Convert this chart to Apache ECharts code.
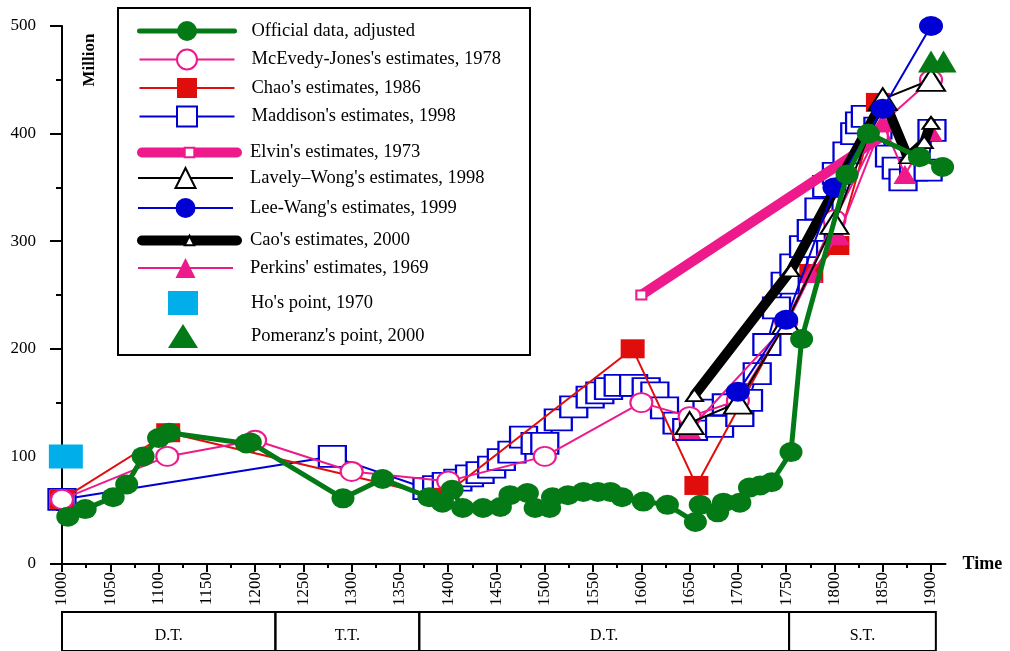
<!DOCTYPE html>
<html>
<head>
<meta charset="utf-8">
<title>China population estimates</title>
<script src="https://cdn.jsdelivr.net/npm/echarts@6/dist/echarts.min.js"></script>
<style>
  html, body { margin: 0; padding: 0; background: #fff; }
  #chart { width: 1010px; height: 651px; }
</style>
</head>
<body>
<div id="chart"></div>
<script>
// [year, million]
const official = [[1006,44],[1024,51],[1053,62],[1067,74],[1084,100],[1100,117],[1111,122],[1191,112],[1195,113],
  [1291,61],[1332,79],[1380,62],[1394,57],[1404,69],[1415,52],[1436,52],[1454,53],[1464,64],[1482,66],[1490,52],
  [1505,52],[1508,62],[1524,64],[1540,67],[1555,67],[1568,67],[1580,62],[1602,58],[1627,55],[1656,39],[1661,55],
  [1679,48],[1685,57],[1702,57],[1712,71],[1723,73],[1735,76],[1755,104],[1766,209],[1813,362],[1835,400],
  [1888,378],[1912,369]];
const mcEvedy = [[1000,60],[1109,100],[1200,115],[1300,86],[1400,77],[1500,100],[1600,150],[1650,137],[1700,152],
  [1750,225],[1800,320],[1850,410],[1900,450]];
const chao = [[1000,60],[1110,122],[1393,62],[1591,200],[1657,73],[1776,270],[1803,296],[1845,429]];
const maddison = [[1000,60],[1280,100],[1378,70],[1388,72],[1398,75],[1410,78],[1422,82],[1433,85],[1445,90],
  [1455,97],[1466,104],[1478,118],[1490,112],[1500,112],[1514,134],[1530,146],[1547,155],[1557,159],[1566,163],
  [1576,166],[1592,166],[1605,163],[1614,159],[1624,145],[1637,131],[1647,125],[1654,125],[1668,143],[1681,128],
  [1688,148],[1702,138],[1711,152],[1720,177],[1730,204],[1740,238],[1749,261],[1758,278],[1768,295],[1776,310],
  [1784,330],[1792,351],[1802,363],[1813,382],[1821,400],[1826,410],[1832,416],[1845,405],[1857,379],[1864,368],
  [1871,357],[1882,366],[1897,366],[1901,403]];
const elvin = [[1600,250],[1850,398]];
const lavelyWong = [[1650,131],[1700,150],[1750,224],[1800,317],[1850,432],[1900,450]];
const leeWang = [[1700,160],[1750,227],[1800,350],[1850,423],[1900,500]];
const cao = [[1655,157],[1755,273],[1851,432],[1876,378],[1893,392],[1900,410]];
const perkins = [[1650,125],[1750,222],[1776,270],[1804,305],[1850,410],[1873,362],[1900,402]];
const ho = [[1004,100]];
const pomeranz = [[1900,467],[1913,467]];

const xTicks = [1000,1050,1100,1150,1200,1250,1300,1350,1400,1450,1500,1550,1600,1650,1700,1750,1800,1850,1900];
const xMinorTicks = [1025,1075,1125,1175,1225,1275,1325,1375,1425,1475,1525,1575,1625,1675,1725,1775,1825,1875];
const periodRanges = [[1000,1221],[1221,1370],[1370,1753],[1753,1905]];
const periodLabels = ['D.T.','T.T.','D.T.','S.T.'];

const FONT = '"Liberation Serif", "Times New Roman", serif';
const GREEN = '#047a16', PINK = '#ee1a8c', RED = '#e00d0d', BLUE = '#0000d4', CYAN = '#00aeea';

const chart = echarts.init(document.getElementById('chart'));

const legendBase = {
  orient: 'vertical',
  left: 137,
  padding: 0,
  itemWidth: 95,
  itemHeight: 25,
  selectedMode: false,
  textStyle: { fontFamily: FONT, fontSize: 18.5, color: '#000', padding: [0, 0, 0, 12] }
};
const thinText = { ...legendBase.textStyle, padding: [0, 0, 0, 8] };

const tickStyle = { color: '#000', width: 2 };

const option = {
  animation: false,
  backgroundColor: '#fff',
  grid: [
    { left: 62, right: 64.5, top: 26, height: 538 },
    { left: 62, right: 64.5, top: 612, height: 60 }
  ],
  xAxis: [
    {
      type: 'value', gridIndex: 0, min: 1000, max: 1915,
      name: 'Time', nameLocation: 'end', nameGap: 17,
      nameTextStyle: { fontFamily: FONT, fontSize: 18, fontWeight: 'bold', color: '#000' },
      axisLine: { show: true, onZero: false, lineStyle: tickStyle },
      axisTick: { show: true, length: 8, customValues: xTicks, lineStyle: tickStyle },
      axisLabel: { rotate: 90, margin: 8, customValues: xTicks, formatter: v => String(v),
                   fontFamily: FONT, fontSize: 17, color: '#000' },
      splitLine: { show: false }
    },
    {
      type: 'value', gridIndex: 0, min: 1000, max: 1915, position: 'bottom',
      axisLine: { show: false, onZero: false },
      axisTick: { show: true, length: 4, customValues: xMinorTicks, lineStyle: tickStyle },
      axisLabel: { show: false },
      splitLine: { show: false }
    },
    { type: 'value', gridIndex: 1, min: 1000, max: 1915, show: false }
  ],
  yAxis: [
    {
      type: 'value', gridIndex: 0, min: 0, max: 500, interval: 100,
      axisLine: { show: true, lineStyle: tickStyle },
      axisTick: { show: true, length: 12, lineStyle: tickStyle },
      minorTick: { show: true, splitNumber: 2, length: 6, lineStyle: tickStyle },
      axisLabel: { margin: 26, fontFamily: FONT, fontSize: 17, color: '#000' },
      splitLine: { show: false }
    },
    { type: 'value', gridIndex: 1, min: 0, max: 1, show: false }
  ],
  legend: [
    { ...legendBase, top: 21, itemGap: 7.5,
      data: [
        { name: 'Official data, adjusted', lineStyle: { width: 5, cap: 'round' } },
        "McEvedy-Jones's estimates, 1978",
        "Chao's estimates, 1986",
        "Maddison's estimates, 1998"
      ] },
    { ...legendBase, top: 143, itemHeight: 12, textStyle: thinText,
      data: [{ name: "Elvin's estimates, 1973", lineStyle: { width: 10, cap: 'round' } }] },
    { ...legendBase, top: 167, itemGap: 9,
      data: ["Lavely\u2013Wong's estimates, 1998", "Lee-Wang's estimates, 1999"] },
    { ...legendBase, top: 231, itemHeight: 12, textStyle: thinText,
      data: [{ name: "Cao's estimates, 2000", lineStyle: { width: 10, cap: 'round' } }] },
    { ...legendBase, top: 258,
      data: ["Perkins' estimates, 1969"] },
    { ...legendBase, top: 291, left: 168, itemWidth: 30, itemHeight: 24, itemGap: 9,
      textStyle: { ...legendBase.textStyle, padding: [0, 0, 0, 48] },
      data: ["Ho's point, 1970", "Pomeranz's point, 2000"] }
  ],
  graphic: [
    { type: 'rect', shape: { x: 118, y: 8, width: 412, height: 347 },
      style: { fill: 'none', stroke: '#000', lineWidth: 2 } },
    { type: 'text', x: 90, y: 60, rotation: Math.PI / 2,
      style: { text: 'Million', font: 'bold 17px ' + FONT, fill: '#000', align: 'center', verticalAlign: 'middle' } }
  ],
  series: [
    { name: "Maddison's estimates, 1998", type: 'line', data: maddison, clip: false, z: 2,
      symbol: 'emptyRect', symbolSize: [27, 21], color: BLUE,
      lineStyle: { width: 2 }, itemStyle: { borderWidth: 2 } },
    { name: "Chao's estimates, 1986", type: 'line', data: chao, clip: false, z: 3,
      symbol: 'rect', symbolSize: [24, 19], color: RED, lineStyle: { width: 2 } },
    { name: "McEvedy-Jones's estimates, 1978", type: 'line', data: mcEvedy, clip: false, z: 4,
      symbol: 'emptyCircle', symbolSize: [22, 19], color: PINK,
      lineStyle: { width: 2 }, itemStyle: { borderWidth: 2 } },
    { name: "Elvin's estimates, 1973", type: 'line', data: elvin, clip: false, z: 5,
      symbol: 'emptyRect', symbolSize: [10, 9], color: PINK,
      lineStyle: { width: 10, cap: 'round' }, itemStyle: { borderWidth: 2 } },
    { name: "Perkins' estimates, 1969", type: 'line', data: perkins, clip: false, z: 6,
      symbol: 'triangle', symbolSize: [23, 19], color: PINK, lineStyle: { width: 2 } },
    { name: "Cao's estimates, 2000", type: 'line', data: cao, clip: false, z: 7,
      symbol: 'emptyTriangle', symbolSize: [17, 12], color: '#000',
      lineStyle: { width: 10, cap: 'round' }, itemStyle: { borderWidth: 2 } },
    { name: "Lavely\u2013Wong's estimates, 1998", type: 'line', data: lavelyWong, clip: false, z: 8,
      symbol: 'emptyTriangle', symbolSize: [28, 22], color: '#000',
      lineStyle: { width: 2 }, itemStyle: { borderWidth: 2 } },
    { name: "Lee-Wang's estimates, 1999", type: 'line', data: leeWang, clip: false, z: 9,
      symbol: 'circle', symbolSize: [24, 20], color: BLUE, lineStyle: { width: 2 } },
    { name: 'Official data, adjusted', type: 'line', data: official, clip: false, z: 10,
      symbol: 'circle', symbolSize: [23, 20], color: GREEN, lineStyle: { width: 5 } },
    { name: "Ho's point, 1970", type: 'scatter', data: ho, clip: false, z: 11,
      symbol: 'rect', symbolSize: [34, 24], color: CYAN, itemStyle: { opacity: 1 } },
    { name: "Pomeranz's point, 2000", type: 'scatter', data: pomeranz, clip: false, z: 12,
      symbol: 'triangle', symbolSize: [26, 22], color: GREEN, itemStyle: { opacity: 1 } },
    {
      type: 'custom', xAxisIndex: 2, yAxisIndex: 1, silent: true,
      data: periodRanges,
      renderItem: function (params, api) {
        const a = api.coord([api.value(0), 1]);
        const b = api.coord([api.value(1), 0]);
        return {
          type: 'group',
          children: [
            { type: 'rect', shape: { x: a[0], y: a[1], width: b[0] - a[0], height: b[1] - a[1] },
              style: { fill: 'none', stroke: '#000', lineWidth: 2 } },
            { type: 'text', x: (a[0] + b[0]) / 2, y: a[1] + 24,
              style: { text: periodLabels[params.dataIndex], font: '16px ' + FONT, fill: '#000',
                       align: 'center', verticalAlign: 'middle' } }
          ]
        };
      }
    }
  ]
};

chart.setOption(option);
</script>
</body>
</html>
